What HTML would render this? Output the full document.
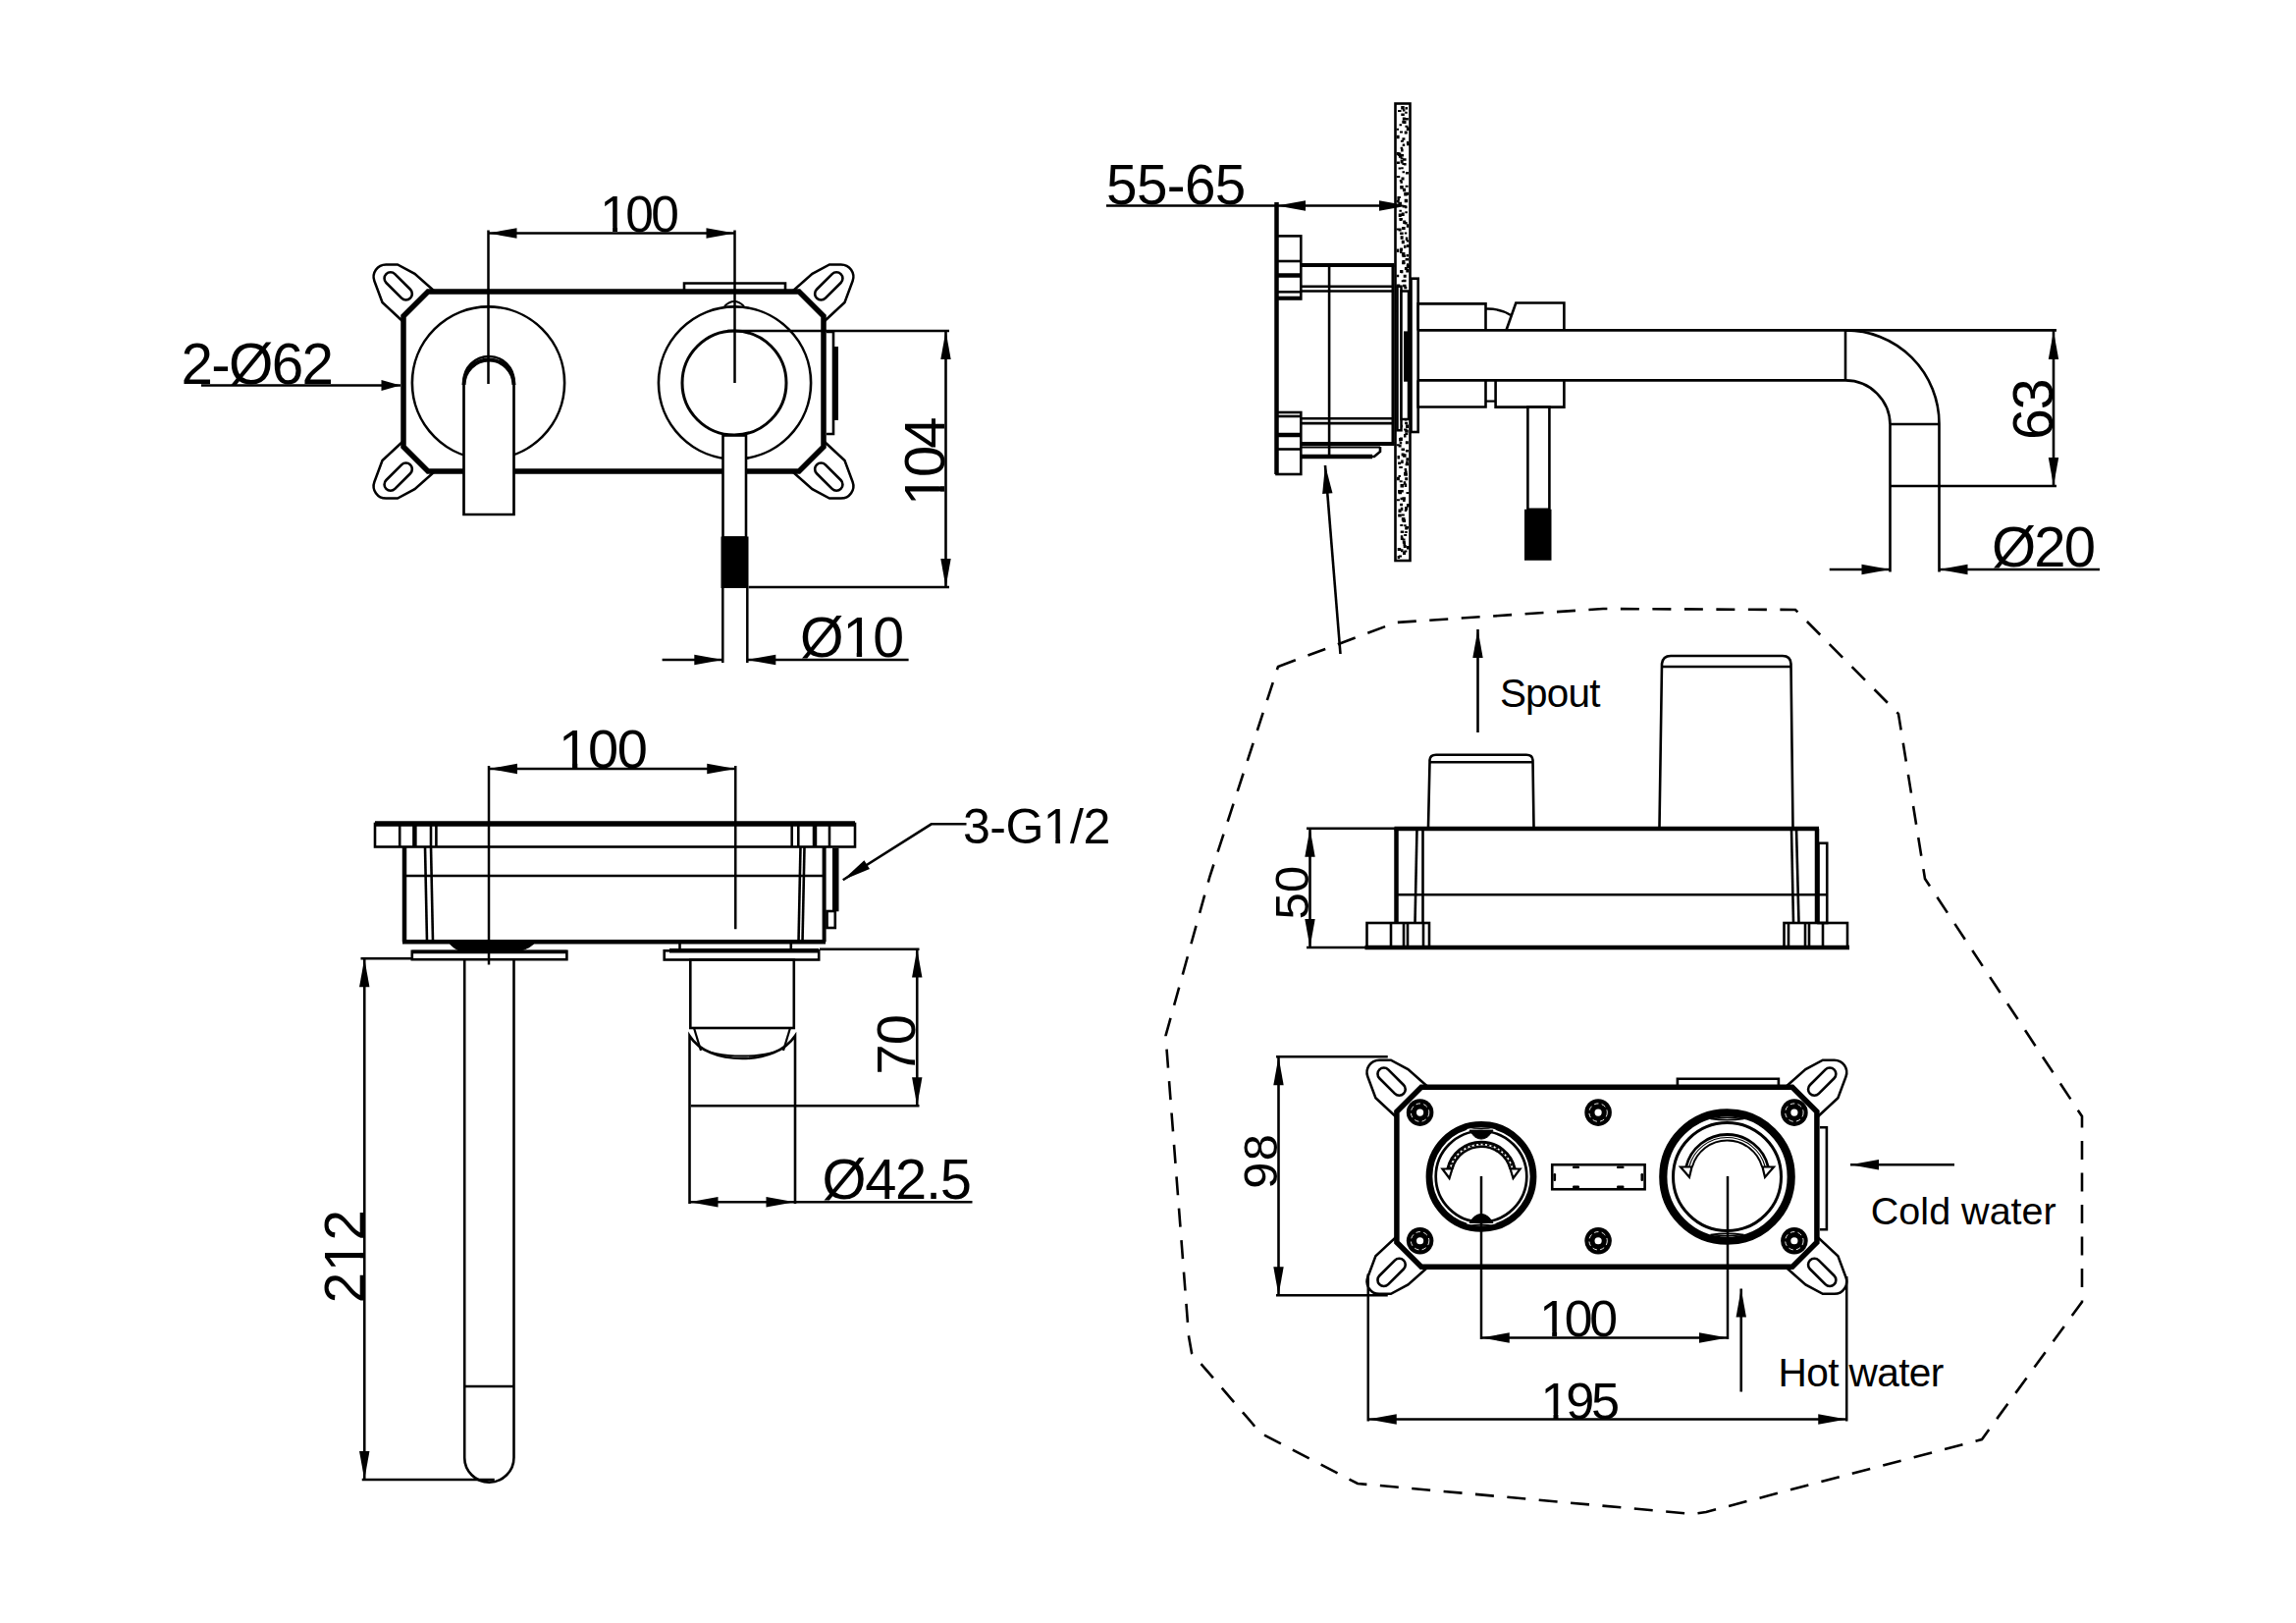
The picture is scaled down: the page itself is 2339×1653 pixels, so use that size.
<!DOCTYPE html>
<html><head><meta charset="utf-8"><style>
html,body{margin:0;padding:0;background:#fff;}
svg{display:block;font-family:"Liberation Sans",sans-serif;}
</style></head><body>
<svg width="2339" height="1653" viewBox="0 0 2339 1653" stroke="#000" fill="none" stroke-linecap="butt">
<rect x="0" y="0" width="2339" height="1653" fill="#fff" stroke="none"/>
<defs><g id="plate"><g transform=""><path d="M442.5,296.5 L422.5,278.8 L405,269.4 L393.2,269.4 A12.6 12.6 0 0 0 381.4,286.3 L389.5,308 L410.5,327.5" stroke-width="2.5" fill="none"/><rect x="-17.4" y="-6.3" width="34.8" height="12.6" rx="6.3" stroke-width="2.6" fill="none" transform="translate(405.7,291.4) rotate(45)"/></g><g transform="translate(1250,0) scale(-1,1)"><path d="M442.5,296.5 L422.5,278.8 L405,269.4 L393.2,269.4 A12.6 12.6 0 0 0 381.4,286.3 L389.5,308 L410.5,327.5" stroke-width="2.5" fill="none"/><rect x="-17.4" y="-6.3" width="34.8" height="12.6" rx="6.3" stroke-width="2.6" fill="none" transform="translate(405.7,291.4) rotate(45)"/></g><g transform="translate(0,777) scale(1,-1)"><path d="M442.5,296.5 L422.5,278.8 L405,269.4 L393.2,269.4 A12.6 12.6 0 0 0 381.4,286.3 L389.5,308 L410.5,327.5" stroke-width="2.5" fill="none"/><rect x="-17.4" y="-6.3" width="34.8" height="12.6" rx="6.3" stroke-width="2.6" fill="none" transform="translate(405.7,291.4) rotate(45)"/></g><g transform="translate(1250,777) scale(-1,-1)"><path d="M442.5,296.5 L422.5,278.8 L405,269.4 L393.2,269.4 A12.6 12.6 0 0 0 381.4,286.3 L389.5,308 L410.5,327.5" stroke-width="2.5" fill="none"/><rect x="-17.4" y="-6.3" width="34.8" height="12.6" rx="6.3" stroke-width="2.6" fill="none" transform="translate(405.7,291.4) rotate(45)"/></g><polygon points="436,297 814,297 839,322 839,455 814,480 436,480 411,455 411,322" stroke-width="5.5" fill="none" stroke-linejoin="miter"/><path d="M697,295 L697,288.5 L800,288.5 L800,295" stroke-width="2.6" fill="none"/><path d="M842,338 L849,338 L849,442 L842,442" stroke-width="2.6" fill="none"/></g><pattern id="stip" width="14" height="44" patternUnits="userSpaceOnUse"><rect x="4.5" y="6.6" width="3" height="1.5" fill="#000"/><rect x="1.0" y="23.6" width="2.5" height="1.5" fill="#000"/><rect x="12.7" y="9.4" width="2" height="3" fill="#000"/><rect x="5.9" y="10.6" width="3" height="3" fill="#000"/><rect x="0.8" y="24.9" width="2" height="1.5" fill="#000"/><rect x="8.1" y="17.5" width="2" height="1.5" fill="#000"/><rect x="7.8" y="5.9" width="2.5" height="2" fill="#000"/><rect x="7.6" y="25.1" width="3" height="2" fill="#000"/><rect x="1.4" y="25.1" width="2" height="2.5" fill="#000"/><rect x="1.4" y="31.3" width="3" height="1.5" fill="#000"/><rect x="8.7" y="21.8" width="3" height="3" fill="#000"/><rect x="10.9" y="20.5" width="2.5" height="2.5" fill="#000"/><rect x="4.2" y="35.0" width="3" height="2" fill="#000"/><rect x="1.1" y="13.2" width="2.5" height="2.5" fill="#000"/><rect x="10.2" y="12.7" width="2" height="1.5" fill="#000"/><rect x="7.2" y="7.3" width="2.5" height="2" fill="#000"/><rect x="13.1" y="18.6" width="3" height="1.5" fill="#000"/><rect x="10.7" y="25.2" width="2.5" height="2.5" fill="#000"/><rect x="9.7" y="26.2" width="3" height="3" fill="#000"/><rect x="1.0" y="4.1" width="2.5" height="3" fill="#000"/><rect x="9.8" y="2.9" width="3" height="2.5" fill="#000"/><rect x="9.1" y="43.7" width="2.5" height="2.5" fill="#000"/></pattern></defs>
<text x="611.33" y="236.00" font-size="51.46" textLength="80.50" lengthAdjust="spacing" stroke="none" fill="#000">100</text>
<text x="184.45" y="390.50" font-size="58.39" textLength="155.60" lengthAdjust="spacing" stroke="none" fill="#000">2-Ø62</text>
<text x="962.00" y="515.12" font-size="58.05" textLength="90.70" lengthAdjust="spacing" transform="rotate(-90 962.00 515.12)" stroke="none" fill="#000">104</text>
<text x="815.03" y="669.00" font-size="57.27" textLength="106.02" lengthAdjust="spacing" stroke="none" fill="#000">Ø10</text>
<text x="1127.05" y="207.80" font-size="56.54" textLength="142.15" lengthAdjust="spacing" stroke="none" fill="#000">55-65</text>
<text x="2091.00" y="448.11" font-size="57.17" textLength="62.74" lengthAdjust="spacing" transform="rotate(-90 2091.00 448.11)" stroke="none" fill="#000">63</text>
<text x="2029.03" y="577.20" font-size="58.07" textLength="106.02" lengthAdjust="spacing" stroke="none" fill="#000">Ø20</text>
<text x="569.08" y="782.00" font-size="56.00" textLength="90.88" lengthAdjust="spacing" stroke="none" fill="#000">100</text>
<text x="932.00" y="1094.70" font-size="56.30" textLength="61.74" lengthAdjust="spacing" transform="rotate(-90 932.00 1094.70)" stroke="none" fill="#000">70</text>
<text x="837.41" y="1221.40" font-size="57.87" textLength="152.54" lengthAdjust="spacing" stroke="none" fill="#000">Ø42.5</text>
<text x="370.60" y="1327.25" font-size="56.54" textLength="95.28" lengthAdjust="spacing" transform="rotate(-90 370.60 1327.25)" stroke="none" fill="#000">212</text>
<text x="981.03" y="859.00" font-size="50.11" textLength="150.31" lengthAdjust="spacing" stroke="none" fill="#000">3-G1/2</text>
<text x="1332.60" y="936.41" font-size="48.96" textLength="54.60" lengthAdjust="spacing" transform="rotate(-90 1332.60 936.41)" stroke="none" fill="#000">50</text>
<text x="1527.91" y="719.80" font-size="40.46" textLength="102.60" lengthAdjust="spacing" stroke="none" fill="#000">Spout</text>
<text x="1568.32" y="1361.00" font-size="51.74" textLength="79.68" lengthAdjust="spacing" stroke="none" fill="#000">100</text>
<text x="1569.49" y="1445.00" font-size="52.29" textLength="80.69" lengthAdjust="spacing" stroke="none" fill="#000">195</text>
<text x="1301.00" y="1210.76" font-size="48.74" textLength="55.60" lengthAdjust="spacing" transform="rotate(-90 1301.00 1210.76)" stroke="none" fill="#000">98</text>
<text x="1811.44" y="1411.80" font-size="40.64" textLength="168.90" lengthAdjust="spacing" stroke="none" fill="#000">Hot water</text>
<text x="1905.83" y="1246.80" font-size="39.52" textLength="188.92" lengthAdjust="spacing" stroke="none" fill="#000">Cold water</text>
<rect x="613.59" y="231.16" width="10.53" height="6.04" fill="#fff" stroke="none"/>
<rect x="629.02" y="231.16" width="9.15" height="6.04" fill="#fff" stroke="none"/>
<rect x="964.55" y="509.78" width="11.90" height="6.54" fill="#fff" stroke="none" transform="rotate(-90 962.00 515.12)"/>
<rect x="981.93" y="509.78" width="10.32" height="6.54" fill="#fff" stroke="none" transform="rotate(-90 962.00 515.12)"/>
<rect x="860.97" y="663.72" width="11.73" height="6.48" fill="#fff" stroke="none"/>
<rect x="878.12" y="663.72" width="10.18" height="6.48" fill="#fff" stroke="none"/>
<rect x="571.54" y="776.82" width="11.47" height="6.38" fill="#fff" stroke="none"/>
<rect x="588.31" y="776.82" width="9.95" height="6.38" fill="#fff" stroke="none"/>
<rect x="405.00" y="1322.03" width="11.58" height="6.42" fill="#fff" stroke="none" transform="rotate(-90 370.60 1327.25)"/>
<rect x="421.93" y="1322.03" width="10.05" height="6.42" fill="#fff" stroke="none" transform="rotate(-90 370.60 1327.25)"/>
<rect x="1065.02" y="854.26" width="10.25" height="5.94" fill="#fff" stroke="none"/>
<rect x="1080.05" y="854.26" width="8.91" height="5.94" fill="#fff" stroke="none"/>
<rect x="1570.59" y="1356.13" width="10.59" height="6.07" fill="#fff" stroke="none"/>
<rect x="1586.10" y="1356.13" width="9.20" height="6.07" fill="#fff" stroke="none"/>
<rect x="1571.79" y="1440.09" width="10.70" height="6.11" fill="#fff" stroke="none"/>
<rect x="1587.46" y="1440.09" width="9.29" height="6.11" fill="#fff" stroke="none"/>
<use href="#plate"/>
<rect x="850" y="353" width="4" height="75" fill="#000" stroke="none"/>
<circle cx="497.5" cy="390" r="77.6" stroke-width="2.6" fill="none" />
<circle cx="748.5" cy="390" r="77.6" stroke-width="2.6" fill="none" />
<circle cx="748" cy="390" r="53" stroke-width="3" fill="none" />
<path d="M738,312 Q748,302 758,312" stroke-width="2" fill="none" />
<path d="M472.5,524 L472.5,388.5 A25.5 25.5 0 0 1 523.5,388.5 L523.5,524 Z" stroke-width="2.7" fill="#fff" />
<path d="M472.5,392 A25.5 25.5 0 0 1 523.5,392" stroke-width="4" fill="none" />
<rect x="736.5" y="443.5" width="23.5" height="104" stroke-width="2.6" fill="#fff"/>
<rect x="734.5" y="546.5" width="28" height="52.5" fill="#000" stroke="none"/>
<line x1="497.5" y1="234.5" x2="497.5" y2="391" stroke-width="2.5"/>
<line x1="748.5" y1="234.5" x2="748.5" y2="390" stroke-width="2.5"/>
<line x1="497.5" y1="237.5" x2="748.5" y2="237.5" stroke-width="2.6"/>
<polygon points="497.50,237.50 526.50,232.30 526.50,242.70" fill="#000" stroke="none"/>
<polygon points="748.50,237.50 719.50,242.70 719.50,232.30" fill="#000" stroke="none"/>
<line x1="205" y1="392.5" x2="408" y2="392.5" stroke-width="2.6"/>
<polygon points="408.00,392.50 388.50,398.00 388.50,387.00" fill="#000" stroke="none"/>
<line x1="741" y1="337" x2="967" y2="337" stroke-width="2.5"/>
<line x1="762.6" y1="598" x2="967" y2="598" stroke-width="2.5"/>
<line x1="963.5" y1="337" x2="963.5" y2="598" stroke-width="2.6"/>
<polygon points="963.50,337.00 968.70,366.00 958.30,366.00" fill="#000" stroke="none"/>
<polygon points="963.50,598.00 958.30,569.00 968.70,569.00" fill="#000" stroke="none"/>
<line x1="736.3" y1="599" x2="736.3" y2="675" stroke-width="2.5"/>
<line x1="761.3" y1="599" x2="761.3" y2="675" stroke-width="2.5"/>
<line x1="674.6" y1="672" x2="736.3" y2="672" stroke-width="2.6"/>
<polygon points="736.30,672.00 707.30,677.20 707.30,666.80" fill="#000" stroke="none"/>
<line x1="761.3" y1="672" x2="925.6" y2="672" stroke-width="2.6"/>
<polygon points="761.30,672.00 790.30,666.80 790.30,677.20" fill="#000" stroke="none"/>
<rect x="1421.5" y="105.5" width="15" height="465.5" stroke-width="2.6" fill="#fff"/>
<path d="M1427.2,107.9h3.5v3.5h-3.5zM1431.5,108.9h2.5v2.5h-2.5zM1428.9,111.5h2.5v2.0h-2.5zM1424.0,111.9h3.5v2.0h-3.5zM1427.3,115.5h3.5v2.5h-3.5zM1431.2,113.8h2.5v2.0h-2.5zM1428.8,119.4h3.0v3.0h-3.0zM1431.3,120.0h3.5v2.5h-3.5zM1429.5,123.0h3.0v3.0h-3.0zM1428.3,122.7h2.5v3.0h-2.5zM1425.5,126.2h2.5v2.0h-2.5zM1431.4,127.8h3.0v2.0h-3.0zM1422.5,130.7h2.5v2.0h-2.5zM1432.8,129.5h3.0v3.5h-3.0zM1430.7,133.5h3.0v3.0h-3.0zM1426.0,133.6h3.0v2.0h-3.0zM1422.6,137.8h3.0v3.5h-3.0zM1428.4,140.3h3.0v2.5h-3.0zM1426.9,142.7h3.0v2.0h-3.0zM1432.9,144.1h2.5v3.0h-2.5zM1428.7,146.6h2.5v2.5h-2.5zM1433.0,146.2h3.5v2.0h-3.5zM1427.1,151.6h2.5v3.0h-2.5zM1426.6,149.7h2.5v2.0h-2.5zM1422.7,154.9h3.0v3.0h-3.0zM1423.8,155.5h3.5v3.5h-3.5zM1426.6,157.0h3.5v2.5h-3.5zM1424.9,158.3h3.5v2.5h-3.5zM1429.1,161.2h3.5v2.5h-3.5zM1426.6,160.4h3.0v2.0h-3.0zM1422.9,164.4h3.0v2.5h-3.0zM1426.6,163.0h3.0v3.5h-3.0zM1430.1,166.0h2.5v2.5h-2.5zM1428.4,166.1h3.5v2.0h-3.5zM1424.6,170.5h2.5v2.0h-2.5zM1427.2,170.3h2.5v2.0h-2.5zM1428.5,174.3h2.5v2.0h-2.5zM1431.9,175.0h3.0v2.5h-3.0zM1427.5,180.5h3.0v3.0h-3.0zM1422.7,179.1h3.5v2.0h-3.5zM1425.8,183.1h2.5v2.0h-2.5zM1426.4,184.2h2.5v2.5h-2.5zM1426.2,188.9h3.5v3.5h-3.5zM1431.6,188.8h3.0v2.0h-3.0zM1429.1,191.8h3.0v3.5h-3.0zM1428.9,192.0h2.5v2.0h-2.5zM1431.7,195.8h3.5v3.0h-3.5zM1430.2,196.0h3.5v3.5h-3.5zM1423.4,199.9h3.5v2.0h-3.5zM1423.4,201.8h2.5v2.5h-2.5zM1430.7,202.7h3.5v3.5h-3.5zM1422.6,204.0h3.0v2.5h-3.0zM1424.3,206.6h3.0v3.5h-3.0zM1425.0,205.7h3.0v3.0h-3.0zM1431.0,209.8h2.5v2.5h-2.5zM1428.6,209.1h3.0v2.5h-3.0zM1431.3,215.2h2.5v2.0h-2.5zM1425.4,213.7h2.5v2.0h-2.5zM1424.7,217.6h3.0v3.5h-3.0zM1427.7,216.6h3.0v3.5h-3.0zM1425.4,222.0h3.5v2.0h-3.5zM1425.5,221.9h3.0v3.0h-3.0zM1429.2,224.4h3.0v3.5h-3.0zM1430.6,226.1h3.0v2.5h-3.0zM1432.8,228.3h2.5v3.5h-2.5zM1428.1,230.9h3.5v3.0h-3.5zM1424.6,232.6h3.0v3.0h-3.0zM1422.6,232.6h3.0v2.0h-3.0zM1426.1,236.5h3.5v2.5h-3.5zM1430.8,236.6h2.5v2.0h-2.5zM1426.6,240.3h3.0v3.5h-3.0zM1431.8,241.4h2.5v3.5h-2.5zM1427.8,244.7h3.0v3.5h-3.0zM1432.8,244.4h2.5v2.0h-2.5zM1432.8,248.9h3.0v3.0h-3.0zM1430.0,249.7h2.5v3.0h-2.5zM1426.1,252.5h3.0v3.0h-3.0zM1422.8,253.4h2.5v3.5h-2.5zM1426.0,254.6h2.5v3.5h-2.5zM1427.9,257.0h3.5v3.5h-3.5zM1432.5,259.1h2.5v2.5h-2.5zM1428.4,259.4h3.5v2.5h-3.5zM1428.4,265.0h3.0v3.5h-3.0zM1431.6,263.0h3.5v2.5h-3.5zM1428.2,265.8h3.0v3.5h-3.0zM1428.1,267.0h3.5v2.0h-3.5zM1432.7,269.7h3.5v3.5h-3.5zM1432.9,268.3h2.5v3.5h-2.5zM1432.3,273.9h3.0v3.5h-3.0zM1430.9,271.9h3.0v3.0h-3.0zM1426.1,275.1h3.0v3.0h-3.0zM1426.9,275.2h2.5v3.0h-2.5zM1422.7,279.7h2.5v2.5h-2.5zM1429.7,279.8h3.0v3.0h-3.0zM1427.7,285.3h3.5v2.0h-3.5zM1429.0,284.8h3.5v2.5h-3.5zM1422.7,289.6h3.5v3.5h-3.5zM1429.0,289.7h3.5v2.5h-3.5zM1424.8,291.6h2.5v2.5h-2.5zM1430.3,291.8h3.0v2.5h-3.0zM1432.2,296.9h2.5v2.5h-2.5zM1423.9,296.4h2.5v2.5h-2.5zM1423.5,298.1h3.0v2.5h-3.0zM1429.1,298.1h2.5v2.0h-2.5zM1432.1,303.6h3.0v2.0h-3.0zM1429.2,303.9h3.0v2.5h-3.0zM1422.8,305.6h3.5v3.5h-3.5zM1424.4,307.7h2.5v2.5h-2.5zM1432.2,310.2h2.5v2.0h-2.5zM1429.7,310.8h2.5v2.0h-2.5zM1427.9,315.2h3.0v2.5h-3.0zM1422.6,315.9h3.5v2.0h-3.5zM1427.3,317.8h3.5v3.0h-3.5zM1424.5,318.1h2.5v2.0h-2.5zM1431.9,321.1h3.5v3.5h-3.5zM1424.5,321.8h3.5v3.0h-3.5zM1432.1,325.1h3.5v2.5h-3.5zM1426.8,324.9h3.0v3.0h-3.0zM1426.8,327.0h3.5v2.5h-3.5zM1426.1,326.8h3.0v2.0h-3.0zM1429.2,330.9h3.5v2.0h-3.5zM1432.4,331.3h3.5v3.0h-3.5zM1428.5,335.4h3.5v2.0h-3.5zM1433.0,336.3h3.5v2.5h-3.5zM1432.8,340.3h2.5v2.0h-2.5zM1430.3,339.6h3.0v3.5h-3.0zM1424.6,341.6h3.0v2.0h-3.0zM1425.1,344.2h3.0v3.5h-3.0zM1432.9,347.6h3.5v3.5h-3.5zM1423.3,346.3h3.5v2.0h-3.5zM1426.6,351.2h2.5v3.5h-2.5zM1428.8,350.9h3.0v3.5h-3.0zM1428.8,354.8h3.0v3.0h-3.0zM1425.3,353.4h3.0v3.0h-3.0zM1428.7,358.8h3.5v2.5h-3.5zM1429.7,359.8h2.5v3.0h-2.5zM1432.9,362.8h3.0v2.0h-3.0zM1424.8,361.2h3.5v3.5h-3.5zM1423.0,365.0h2.5v3.5h-2.5zM1432.6,364.8h2.5v2.0h-2.5zM1423.7,369.7h2.5v3.0h-2.5zM1423.8,370.2h3.0v2.5h-3.0zM1425.3,372.9h3.5v3.5h-3.5zM1430.3,374.0h2.5v3.0h-2.5zM1423.7,375.8h3.0v3.0h-3.0zM1428.9,376.9h3.5v2.5h-3.5zM1424.5,381.8h2.5v2.5h-2.5zM1422.9,380.0h2.5v2.0h-2.5zM1429.0,384.3h2.5v2.5h-2.5zM1423.3,384.4h2.5v2.5h-2.5zM1426.4,387.3h3.0v3.0h-3.0zM1426.1,389.2h3.5v2.5h-3.5zM1423.8,390.9h3.5v2.5h-3.5zM1430.3,390.7h3.0v2.5h-3.0zM1432.9,395.2h3.0v3.0h-3.0zM1430.3,395.5h2.5v3.5h-2.5zM1427.4,399.0h3.0v2.0h-3.0zM1427.0,399.9h3.5v3.5h-3.5zM1431.1,402.0h2.5v2.0h-2.5zM1432.1,403.1h3.5v2.0h-3.5zM1430.5,407.4h3.0v3.0h-3.0zM1424.8,405.8h3.5v3.0h-3.5zM1429.9,409.1h3.5v3.0h-3.5zM1430.9,408.7h3.0v3.5h-3.0zM1432.3,411.5h3.5v2.5h-3.5zM1431.2,413.3h2.5v3.0h-2.5zM1430.9,417.5h3.5v3.0h-3.5zM1428.2,415.7h3.5v2.5h-3.5zM1431.7,420.0h3.0v2.0h-3.0zM1423.1,422.2h2.5v3.0h-2.5zM1430.9,425.6h2.5v3.0h-2.5zM1423.4,425.5h2.5v3.0h-2.5zM1423.4,428.0h3.5v2.5h-3.5zM1431.1,429.8h3.0v2.5h-3.0zM1432.0,432.5h3.0v3.5h-3.0zM1426.0,432.8h3.0v2.5h-3.0zM1430.1,436.4h3.5v2.0h-3.5zM1431.2,437.7h3.5v3.0h-3.5zM1431.3,440.9h3.0v2.0h-3.0zM1430.0,442.1h2.5v3.5h-2.5zM1425.1,445.9h2.5v3.5h-2.5zM1425.9,445.4h3.0v3.5h-3.0zM1431.8,449.3h3.0v3.0h-3.0zM1425.7,449.9h2.5v2.5h-2.5zM1422.7,452.2h3.0v2.0h-3.0zM1424.6,453.0h3.0v2.5h-3.0zM1427.5,456.5h3.5v2.5h-3.5zM1431.9,457.9h3.0v2.5h-3.0zM1429.1,462.2h3.5v3.5h-3.5zM1427.6,461.6h3.0v3.0h-3.0zM1423.5,464.0h2.5v3.5h-2.5zM1432.4,466.2h3.0v3.0h-3.0zM1432.2,469.5h2.5v3.5h-2.5zM1427.2,468.6h2.5v3.5h-2.5zM1424.1,470.6h3.0v2.5h-3.0zM1431.6,471.7h3.5v2.5h-3.5zM1425.3,474.9h3.5v2.0h-3.5zM1430.6,476.9h2.5v2.5h-2.5zM1431.1,479.5h2.5v3.0h-2.5zM1430.0,480.8h2.5v3.5h-2.5zM1430.4,481.7h3.5v3.0h-3.5zM1424.5,484.0h2.5v2.0h-2.5zM1422.9,485.7h3.0v3.5h-3.0zM1431.2,486.2h3.0v3.0h-3.0zM1425.7,489.3h3.0v2.0h-3.0zM1429.7,490.2h2.5v3.5h-2.5zM1430.7,492.4h2.5v3.5h-2.5zM1426.5,493.1h3.5v3.5h-3.5zM1427.3,498.9h2.5v2.5h-2.5zM1424.1,499.0h3.5v3.5h-3.5zM1432.5,501.1h3.0v2.0h-3.0zM1424.6,501.3h3.5v2.0h-3.5zM1428.4,506.2h3.5v3.0h-3.5zM1426.5,506.7h2.5v2.5h-2.5zM1429.1,508.4h2.5v2.5h-2.5zM1422.9,508.2h3.0v2.0h-3.0zM1432.9,513.0h3.0v3.5h-3.0zM1426.1,512.7h3.0v2.5h-3.0zM1431.1,515.9h3.0v3.5h-3.0zM1426.8,516.7h2.5v3.5h-2.5zM1430.8,519.0h2.5v2.0h-2.5zM1424.5,518.6h3.0v3.5h-3.0zM1427.8,523.6h3.0v2.0h-3.0zM1424.2,523.4h3.5v3.0h-3.5zM1427.8,528.1h2.5v2.5h-2.5zM1427.9,526.9h3.5v2.5h-3.5zM1429.4,528.8h2.5v2.5h-2.5zM1428.6,529.0h3.5v3.0h-3.5zM1426.3,533.9h3.0v2.0h-3.0zM1430.2,534.2h2.5v2.0h-2.5zM1432.0,536.1h3.0v2.5h-3.0zM1431.2,536.5h3.0v3.0h-3.0zM1431.2,541.0h2.5v2.0h-2.5zM1426.7,540.5h3.5v2.5h-3.5zM1430.2,544.1h3.0v2.0h-3.0zM1426.8,545.2h2.5v2.5h-2.5zM1426.8,547.4h3.0v2.5h-3.0zM1428.5,548.6h3.0v2.0h-3.0zM1429.5,552.4h2.5v3.5h-2.5zM1428.8,550.7h3.0v3.0h-3.0zM1429.7,554.9h3.0v3.0h-3.0zM1432.9,555.9h3.5v3.5h-3.5zM1423.7,558.0h3.5v3.0h-3.5zM1427.0,559.2h2.5v3.0h-2.5zM1429.0,561.6h3.0v3.5h-3.0zM1430.4,560.5h3.0v2.0h-3.0zM1425.0,565.5h3.0v2.0h-3.0zM1423.6,566.1h2.5v3.0h-2.5z" fill="#000" stroke="none"/>
<line x1="1127" y1="209.5" x2="1421" y2="209.5" stroke-width="2.6"/>
<polygon points="1301.00,209.50 1330.00,204.30 1330.00,214.70" fill="#000" stroke="none"/>
<polygon points="1434.00,209.50 1405.00,214.70 1405.00,204.30" fill="#000" stroke="none"/>
<line x1="1300.5" y1="206" x2="1300.5" y2="483" stroke-width="4.5"/>
<rect x="1300.5" y="240.4" width="24.8" height="64.1" stroke-width="2.6" fill="none"/>
<line x1="1300.5" y1="266" x2="1325.3" y2="266" stroke-width="2.6"/>
<line x1="1300.5" y1="280.5" x2="1325.3" y2="280.5" stroke-width="4.5"/>
<line x1="1300.5" y1="297.3" x2="1325.3" y2="297.3" stroke-width="2.6"/>
<line x1="1300.5" y1="303" x2="1325.3" y2="303" stroke-width="2.6"/>
<rect x="1300.5" y="420" width="24.8" height="63" stroke-width="2.6" fill="none"/>
<line x1="1300.5" y1="424" x2="1325.3" y2="424" stroke-width="2.6"/>
<line x1="1300.5" y1="443" x2="1325.3" y2="443" stroke-width="4.5"/>
<line x1="1300.5" y1="457.5" x2="1325.3" y2="457.5" stroke-width="2.6"/>
<line x1="1325.3" y1="270" x2="1420.6" y2="270" stroke-width="4"/>
<line x1="1325.3" y1="291.7" x2="1419" y2="291.7" stroke-width="2.6"/>
<line x1="1325.3" y1="296.5" x2="1419" y2="296.5" stroke-width="2.6"/>
<line x1="1354.1" y1="270" x2="1354.1" y2="466" stroke-width="2.6"/>
<line x1="1325.3" y1="426.3" x2="1419" y2="426.3" stroke-width="2.6"/>
<line x1="1325.3" y1="431.1" x2="1419" y2="431.1" stroke-width="2.6"/>
<line x1="1325.3" y1="452" x2="1420.6" y2="452" stroke-width="4"/>
<path d="M1325.3,465 L1400,465 L1406,460 L1406,455" stroke-width="2.6" fill="none" />
<line x1="1325.3" y1="465" x2="1398" y2="465" stroke-width="4.5"/>
<line x1="1325.3" y1="455.5" x2="1406" y2="455.5" stroke-width="2.2"/>
<line x1="1419" y1="270" x2="1419" y2="453.5" stroke-width="3"/>
<rect x="1423.5" y="291.7" width="4" height="146.6" stroke-width="2.5" fill="#fff"/>
<rect x="1427.5" y="296.5" width="7.5" height="130.5" stroke-width="2.5" fill="#fff"/>
<rect x="1430" y="337.4" width="5" height="51.3" fill="#000" stroke="none"/>
<rect x="1437.5" y="283.7" width="7.2" height="156.3" stroke-width="2.6" fill="#fff"/>
<path d="M1444.7,336.5 L1444.7,309.4 L1513.5,309.4 L1513.5,336.5" stroke-width="2.6" fill="none" />
<path d="M1444.7,387.3 L1444.7,414.5 L1513.5,414.5 L1513.5,387.3" stroke-width="2.6" fill="none" />
<line x1="1444.7" y1="336.4" x2="2095" y2="336.4" stroke-width="2.6"/>
<line x1="1444.7" y1="387.4" x2="1880" y2="387.4" stroke-width="2.6"/>
<path d="M1534.4,336.5 L1544.3,308.5 L1593.4,308.5 L1593.4,336.5" stroke-width="2.6" fill="none" />
<path d="M1513.5,314.6 Q1528,314 1539,321" stroke-width="2.4" fill="none" />
<path d="M1523.6,387.3 L1523.6,414.6 L1593.4,414.6 L1593.4,387.3" stroke-width="2.6" fill="none" />
<path d="M1513.5,408.6 L1523.6,408.6" stroke-width="2.2" fill="none" />
<rect x="1556.4" y="414.6" width="22" height="104.2" stroke-width="2.6" fill="#fff"/>
<rect x="1553" y="518.75" width="27.5" height="52" fill="#000" stroke="none"/>
<line x1="1880" y1="336.4" x2="1880" y2="387.4" stroke-width="2.6"/>
<path d="M1880,336.4 A95 95 0 0 1 1975.5,431.5 L1975.5,582.5" stroke-width="2.6" fill="none" />
<path d="M1880,387.4 A45.5 45.5 0 0 1 1925.5,432.5 L1925.5,582.5" stroke-width="2.6" fill="none" />
<line x1="1925.5" y1="432" x2="1975.5" y2="432" stroke-width="2.6"/>
<line x1="1925.5" y1="495" x2="2095" y2="495" stroke-width="2.6"/>
<line x1="2092" y1="337" x2="2092" y2="495" stroke-width="2.6"/>
<polygon points="2092.00,337.00 2097.20,366.00 2086.80,366.00" fill="#000" stroke="none"/>
<polygon points="2092.00,495.00 2086.80,466.00 2097.20,466.00" fill="#000" stroke="none"/>
<line x1="1863.75" y1="580" x2="1925.5" y2="580" stroke-width="2.6"/>
<polygon points="1925.50,580.00 1896.50,585.20 1896.50,574.80" fill="#000" stroke="none"/>
<line x1="1975.5" y1="580" x2="2139" y2="580" stroke-width="2.6"/>
<polygon points="1975.50,580.00 2004.50,574.80 2004.50,585.20" fill="#000" stroke="none"/>
<line x1="1365.5" y1="666" x2="1350" y2="474" stroke-width="2.6"/>
<polygon points="1350.00,473.75 1357.51,502.24 1347.15,503.07" fill="#000" stroke="none"/>
<line x1="498" y1="780" x2="498" y2="982.5" stroke-width="2.5"/>
<line x1="749.25" y1="780" x2="749.25" y2="946.25" stroke-width="2.5"/>
<line x1="498" y1="783" x2="749.25" y2="783" stroke-width="2.6"/>
<polygon points="498.00,783.00 527.00,777.80 527.00,788.20" fill="#000" stroke="none"/>
<polygon points="749.25,783.00 720.25,788.20 720.25,777.80" fill="#000" stroke="none"/>
<rect x="382" y="839" width="489" height="23.5" stroke-width="2.6" fill="none"/>
<line x1="382" y1="839" x2="871" y2="839" stroke-width="5.5"/>
<line x1="407.2" y1="839" x2="407.2" y2="862.5" stroke-width="2.6"/>
<line x1="439" y1="839" x2="439" y2="862.5" stroke-width="2.6"/>
<line x1="444.4" y1="839" x2="444.4" y2="862.5" stroke-width="2.6"/>
<line x1="806.7" y1="839" x2="806.7" y2="862.5" stroke-width="2.6"/>
<line x1="813.3" y1="839" x2="813.3" y2="862.5" stroke-width="2.6"/>
<line x1="845" y1="839" x2="845" y2="862.5" stroke-width="2.6"/>
<line x1="422.4" y1="839" x2="422.4" y2="862.5" stroke-width="4.5"/>
<line x1="830" y1="839" x2="830" y2="862.5" stroke-width="4.5"/>
<line x1="412" y1="862.5" x2="412" y2="959.3" stroke-width="4.5"/>
<line x1="839.6" y1="862.5" x2="839.6" y2="959.3" stroke-width="4"/>
<line x1="410" y1="959.3" x2="841" y2="959.3" stroke-width="4.5"/>
<line x1="412" y1="892" x2="840" y2="892" stroke-width="2.6"/>
<line x1="433" y1="862.5" x2="435" y2="959.3" stroke-width="2.6"/>
<line x1="439" y1="862.5" x2="441" y2="959.3" stroke-width="2.6"/>
<line x1="815.5" y1="862.5" x2="813.5" y2="959.3" stroke-width="2.6"/>
<line x1="819.5" y1="862.5" x2="817.5" y2="959.3" stroke-width="2.6"/>
<rect x="848" y="863.7" width="6.5" height="64.6" fill="#000" stroke="none"/>
<rect x="842.5" y="928" width="8.3" height="17" stroke-width="2.6" fill="none"/>
<path d="M458,961 L544,961 Q536,969 520,969 L470,969 Q462,966 458,961 Z" stroke-width="1" fill="#000" />
<rect x="419.8" y="968.8" width="157.6" height="8.4" stroke-width="2.6" fill="none"/>
<line x1="419.8" y1="969.5" x2="577.4" y2="969.5" stroke-width="3.5"/>
<path d="M473.2,977.2 L473.2,1484.5 A25.15 25.15 0 0 0 523.5,1484.5 L523.5,977.2" stroke-width="2.6" fill="none" />
<line x1="473.2" y1="1412" x2="523.5" y2="1412" stroke-width="2.6"/>
<rect x="676.7" y="968.3" width="157.5" height="9.2" stroke-width="2.6" fill="none"/>
<line x1="682" y1="968.3" x2="834.2" y2="968.3" stroke-width="4.5"/>
<line x1="692.5" y1="960" x2="692.5" y2="966" stroke-width="2.6"/>
<line x1="805.8" y1="960" x2="805.8" y2="966" stroke-width="2.6"/>
<rect x="703.3" y="977.5" width="105.5" height="69.5" stroke-width="2.6" fill="none"/>
<path d="M702.5,1226 L702.5,1055 C712,1070 732,1078 756,1078 C780,1078 800,1070 810,1055 L810,1226" stroke-width="2.6" fill="none" />
<path d="M712,1066 C722,1073 740,1075.5 756,1075.5 C772,1075.5 790,1073 800,1066" stroke-width="2" fill="none" />
<path d="M707,1047 L714,1070" stroke-width="2.2" fill="none" />
<path d="M805,1047 L798,1070" stroke-width="2.2" fill="none" />
<line x1="835" y1="966.7" x2="936.5" y2="966.7" stroke-width="2.5"/>
<line x1="703.75" y1="1126.25" x2="936.5" y2="1126.25" stroke-width="2.5"/>
<line x1="934.25" y1="966.5" x2="934.25" y2="1126.25" stroke-width="2.6"/>
<polygon points="934.25,966.50 939.45,995.50 929.05,995.50" fill="#000" stroke="none"/>
<polygon points="934.25,1126.25 929.05,1097.25 939.45,1097.25" fill="#000" stroke="none"/>
<line x1="702.5" y1="1224.2" x2="990.5" y2="1224.2" stroke-width="2.6"/>
<polygon points="702.50,1224.20 731.50,1219.00 731.50,1229.40" fill="#000" stroke="none"/>
<polygon points="809.50,1224.20 780.50,1229.40 780.50,1219.00" fill="#000" stroke="none"/>
<line x1="367.5" y1="976.25" x2="419.5" y2="976.25" stroke-width="2.5"/>
<line x1="368.75" y1="1507" x2="503.75" y2="1507" stroke-width="2.5"/>
<line x1="371.25" y1="976.25" x2="371.25" y2="1507" stroke-width="2.6"/>
<polygon points="371.25,976.25 376.45,1005.25 366.05,1005.25" fill="#000" stroke="none"/>
<polygon points="371.25,1507.00 366.05,1478.00 376.45,1478.00" fill="#000" stroke="none"/>
<path d="M984.5,839.3 L948.75,839.3 L858.75,896.25" stroke-width="2.6" fill="none" />
<polygon points="858.75,896.25 880.39,876.25 885.99,885.02" fill="#000" stroke="none"/>
<path d="M1455,842.5 L1456.5,776 L1456.5,774 Q1457,768.75 1463,768.75 L1555,768.75 Q1561,768.75 1561.5,774 L1562.5,842.5" stroke-width="2.6" fill="none" />
<line x1="1456.5" y1="776.2" x2="1561.5" y2="776.2" stroke-width="2.6"/>
<path d="M1690.5,842.5 L1693,676 Q1694,668 1702,668 L1816,668 Q1824,668 1824.5,676 L1826.5,842.5" stroke-width="2.6" fill="none" />
<line x1="1693" y1="679" x2="1824.5" y2="679" stroke-width="2.6"/>
<line x1="1420.5" y1="844" x2="1853" y2="844" stroke-width="4.5"/>
<line x1="1390.5" y1="965" x2="1884" y2="965" stroke-width="4.5"/>
<line x1="1422.5" y1="844" x2="1422.5" y2="940" stroke-width="4.5"/>
<line x1="1851" y1="844" x2="1851" y2="940" stroke-width="4.5"/>
<line x1="1443.5" y1="844" x2="1441.5" y2="940" stroke-width="2.6"/>
<line x1="1449.5" y1="844" x2="1449.5" y2="940" stroke-width="2.6"/>
<line x1="1825" y1="844" x2="1827" y2="940" stroke-width="2.6"/>
<line x1="1830" y1="844" x2="1832.5" y2="940" stroke-width="2.6"/>
<line x1="1422.5" y1="911.25" x2="1861.25" y2="911.25" stroke-width="2.6"/>
<rect x="1852.5" y="858.75" width="8.75" height="81.25" stroke-width="2.6" fill="none"/>
<rect x="1392.5" y="940" width="63.5" height="25" stroke-width="2.6" fill="none"/>
<line x1="1417" y1="940" x2="1417" y2="965" stroke-width="2.6"/>
<line x1="1430" y1="940" x2="1430" y2="965" stroke-width="2.6"/>
<line x1="1434" y1="940" x2="1434" y2="965" stroke-width="2.6"/>
<line x1="1450" y1="940" x2="1450" y2="965" stroke-width="2.6"/>
<rect x="1817.5" y="940" width="64.5" height="25" stroke-width="2.6" fill="none"/>
<line x1="1822" y1="940" x2="1822" y2="965" stroke-width="2.6"/>
<line x1="1839" y1="940" x2="1839" y2="965" stroke-width="2.6"/>
<line x1="1843" y1="940" x2="1843" y2="965" stroke-width="2.6"/>
<line x1="1857" y1="940" x2="1857" y2="965" stroke-width="2.6"/>
<line x1="1331" y1="843.75" x2="1422.5" y2="843.75" stroke-width="2.5"/>
<line x1="1331" y1="965" x2="1392.5" y2="965" stroke-width="2.5"/>
<line x1="1334.5" y1="843.75" x2="1334.5" y2="965" stroke-width="2.6"/>
<polygon points="1334.50,843.75 1339.70,872.75 1329.30,872.75" fill="#000" stroke="none"/>
<polygon points="1334.50,965.00 1329.30,936.00 1339.70,936.00" fill="#000" stroke="none"/>
<line x1="1505.5" y1="746" x2="1505.5" y2="641" stroke-width="2.6"/>
<polygon points="1505.50,641.00 1510.70,670.00 1500.30,670.00" fill="#000" stroke="none"/>
<use href="#plate" transform="translate(1011.9,810.25)"/>
<circle cx="1446.6" cy="1133.1" r="13.8" stroke-width="0" fill="#000" stroke="none"/>
<circle cx="1446.6" cy="1133.1" r="9.2" stroke-width="0.9" fill="none" stroke="#fff" stroke-dasharray="4.5 3.3"/>
<circle cx="1446.6" cy="1133.1" r="3.6" stroke-width="0" fill="#fff" stroke="none"/>
<circle cx="1446.6" cy="1263.75" r="13.8" stroke-width="0" fill="#000" stroke="none"/>
<circle cx="1446.6" cy="1263.75" r="9.2" stroke-width="0.9" fill="none" stroke="#fff" stroke-dasharray="4.5 3.3"/>
<circle cx="1446.6" cy="1263.75" r="3.6" stroke-width="0" fill="#fff" stroke="none"/>
<circle cx="1628.1" cy="1133.1" r="13.8" stroke-width="0" fill="#000" stroke="none"/>
<circle cx="1628.1" cy="1133.1" r="9.2" stroke-width="0.9" fill="none" stroke="#fff" stroke-dasharray="4.5 3.3"/>
<circle cx="1628.1" cy="1133.1" r="3.6" stroke-width="0" fill="#fff" stroke="none"/>
<circle cx="1628.1" cy="1263.75" r="13.8" stroke-width="0" fill="#000" stroke="none"/>
<circle cx="1628.1" cy="1263.75" r="9.2" stroke-width="0.9" fill="none" stroke="#fff" stroke-dasharray="4.5 3.3"/>
<circle cx="1628.1" cy="1263.75" r="3.6" stroke-width="0" fill="#fff" stroke="none"/>
<circle cx="1827.9" cy="1133.1" r="13.8" stroke-width="0" fill="#000" stroke="none"/>
<circle cx="1827.9" cy="1133.1" r="9.2" stroke-width="0.9" fill="none" stroke="#fff" stroke-dasharray="4.5 3.3"/>
<circle cx="1827.9" cy="1133.1" r="3.6" stroke-width="0" fill="#fff" stroke="none"/>
<circle cx="1827.9" cy="1263.75" r="13.8" stroke-width="0" fill="#000" stroke="none"/>
<circle cx="1827.9" cy="1263.75" r="9.2" stroke-width="0.9" fill="none" stroke="#fff" stroke-dasharray="4.5 3.3"/>
<circle cx="1827.9" cy="1263.75" r="3.6" stroke-width="0" fill="#fff" stroke="none"/>
<circle cx="1509" cy="1198.3" r="53.3" stroke-width="6.2" fill="none" />
<path d="M1523.74,1150.10 A50.4 50.4 0 0 1 1523.74,1246.50" stroke-width="1.5" fill="none" />
<path d="M1494.26,1246.50 A50.4 50.4 0 0 1 1494.26,1150.10" stroke-width="1.5" fill="none" />
<circle cx="1509" cy="1198.3" r="46.3" stroke-width="2.7" fill="none" />
<path d="M1497,1151.1 L1521,1151.1 Q1516,1160.1 1509,1160.1 Q1502,1160.1 1497,1151.1 Z" stroke-width="1" fill="#000" />
<path d="M1494.5,1147.7 Q1509,1150.9 1523.5,1147.7 Q1509,1146.5 1494.5,1147.7 Z" stroke-width="1.5" fill="none" />
<path d="M1497,1245.5 L1521,1245.5 Q1516,1236.5 1509,1236.5 Q1502,1236.5 1497,1245.5 Z" stroke-width="1" fill="#000" />
<path d="M1494.5,1248.8999999999999 Q1509,1245.6999999999998 1523.5,1248.8999999999999 Q1509,1250.1 1494.5,1248.8999999999999 Z" stroke-width="1.5" fill="none" />
<path d="M1474.78,1190.50 A35.1 35.1 0 0 1 1543.22,1190.50" stroke-width="3.0" fill="none" />
<path d="M1477.14,1190.50 A32.8 32.8 0 0 1 1540.86,1190.50" stroke-width="1.8" fill="none" stroke-dasharray="2.5 2"/>
<path d="M1479.41,1190.50 A30.6 30.6 0 0 1 1538.59,1190.50" stroke-width="2.6" fill="none" />
<path d="M1469.4,1190.5 L1479.4,1190.5 L1476.5,1200.0 Z" stroke-width="2.2" fill="#fff" />
<path d="M1548.6,1190.5 L1538.6,1190.5 L1541.5,1200.0 Z" stroke-width="2.2" fill="#fff" />
<circle cx="1759.5" cy="1198.5" r="65.2" stroke-width="8.2" fill="none" />
<circle cx="1759.5" cy="1198.5" r="55" stroke-width="3.0" fill="none" />
<path d="M1742.5,1139.5 Q1759.5,1142.0 1776.5,1139.5 Q1759.5,1137.5 1742.5,1139.5 Z" stroke-width="1.6" fill="#fff" />
<path d="M1742.5,1257.5 Q1759.5,1255.0 1776.5,1257.5 Q1759.5,1259.5 1742.5,1257.5 Z" stroke-width="1.6" fill="#fff" />
<path d="M1717.68,1188.50 A43.0 43.0 0 0 1 1801.32,1188.50" stroke-width="2.8" fill="none" />
<path d="M1720.77,1188.50 A40.0 40.0 0 0 1 1798.23,1188.50" stroke-width="1.1" fill="none" />
<path d="M1723.88,1188.50 A37.0 37.0 0 0 1 1795.12,1188.50" stroke-width="2.0" fill="none" />
<path d="M1712.0,1188.5 L1723.5,1188.5 L1721.0,1199.0 Z" stroke-width="2.2" fill="#fff" />
<path d="M1807.0,1188.5 L1795.5,1188.5 L1798.0,1199.0 Z" stroke-width="2.2" fill="#fff" />
<rect x="1581.25" y="1186.25" width="94.35" height="25" stroke-width="2.6" fill="none"/>
<rect x="1602" y="1187.5" width="7" height="2.6" rx="1.2" fill="#000" stroke="none"/>
<rect x="1647" y="1187.5" width="7.5" height="2.6" rx="1.2" fill="#000" stroke="none"/>
<rect x="1602" y="1207.5" width="7" height="2.6" rx="1.2" fill="#000" stroke="none"/>
<rect x="1647" y="1207.5" width="7.5" height="2.6" rx="1.2" fill="#000" stroke="none"/>
<rect x="1582.5" y="1195" width="2.6" height="8" rx="1.2" fill="#000" stroke="none"/>
<rect x="1671.5" y="1195" width="2.6" height="8" rx="1.2" fill="#000" stroke="none"/>
<line x1="1509" y1="1198" x2="1509" y2="1364" stroke-width="2.5"/>
<line x1="1760" y1="1198" x2="1760" y2="1364" stroke-width="2.5"/>
<line x1="1508.75" y1="1362.5" x2="1760" y2="1362.5" stroke-width="2.6"/>
<polygon points="1508.75,1362.50 1537.75,1357.30 1537.75,1367.70" fill="#000" stroke="none"/>
<polygon points="1760.00,1362.50 1731.00,1367.70 1731.00,1357.30" fill="#000" stroke="none"/>
<line x1="1393.75" y1="1297.5" x2="1393.75" y2="1447.5" stroke-width="2.5"/>
<line x1="1881.25" y1="1300" x2="1881.25" y2="1447.5" stroke-width="2.5"/>
<line x1="1393.75" y1="1445.5" x2="1881.25" y2="1445.5" stroke-width="2.6"/>
<polygon points="1393.75,1445.50 1422.75,1440.30 1422.75,1450.70" fill="#000" stroke="none"/>
<polygon points="1881.25,1445.50 1852.25,1450.70 1852.25,1440.30" fill="#000" stroke="none"/>
<line x1="1300" y1="1076.25" x2="1413.75" y2="1076.25" stroke-width="2.5"/>
<line x1="1300" y1="1319.25" x2="1413.75" y2="1319.25" stroke-width="2.5"/>
<line x1="1302.5" y1="1076.25" x2="1302.5" y2="1319.25" stroke-width="2.6"/>
<polygon points="1302.50,1076.25 1307.70,1105.25 1297.30,1105.25" fill="#000" stroke="none"/>
<polygon points="1302.50,1319.25 1297.30,1290.25 1307.70,1290.25" fill="#000" stroke="none"/>
<line x1="1773.75" y1="1417.5" x2="1773.75" y2="1312.5" stroke-width="2.6"/>
<polygon points="1773.75,1312.50 1778.95,1341.50 1768.55,1341.50" fill="#000" stroke="none"/>
<line x1="1991" y1="1186.25" x2="1885" y2="1186.25" stroke-width="2.6"/>
<polygon points="1885.00,1186.25 1914.00,1181.05 1914.00,1191.45" fill="#000" stroke="none"/>
<path d="M1302,679 L1422,634 L1633,620 L1829,621 L1934,727 L1961,895 L2121,1137 L2121,1326 L2019,1466 L1738,1540 L1725,1542 L1383,1511 L1283,1459 L1276,1450 L1214,1378 L1211,1361 L1187.5,1055 L1232.5,892.5 Z" stroke-width="2.6" fill="none" stroke-dasharray="19 13.5"/>
</svg></body></html>
